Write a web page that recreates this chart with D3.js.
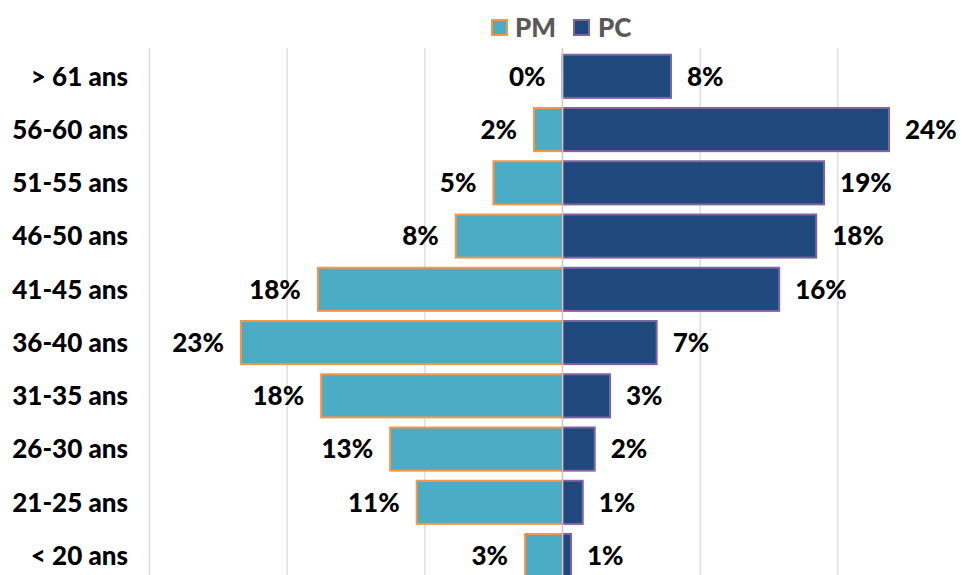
<!DOCTYPE html>
<html>
<head>
<meta charset="utf-8">
<script src="https://cdn.jsdelivr.net/npm/d3@7"></script>
<style>
  html, body { margin: 0; padding: 0; background: #fff; }
  svg { display: block; }
  text { font-family: Lato, "Open Sans", sans-serif; font-weight: 900; }
</style>
</head>
<body>
<div id="chart"></div>
<script>
// ---- data ----
const categories = ["> 61 ans", "56-60 ans", "51-55 ans", "46-50 ans", "41-45 ans",
                    "36-40 ans", "31-35 ans", "26-30 ans", "21-25 ans", "< 20 ans"];
const pmValues = [0, 2.07, 5.02, 7.75, 17.77, 23.36, 17.53, 12.52, 10.59, 2.72];
const pcValues = [7.88, 23.72, 19.0, 18.43, 15.74, 6.84, 3.45, 2.34, 1.47, 0.62];
const seriesNames = ["PM", "PC"];
const gridTicks = [-30, -20, -10, 0, 10, 20, 30];

// ---- layout ----
const W = 964, H = 575;
const FS = 26;
const svg = d3.select("#chart").append("svg").attr("width", W).attr("height", H);

const x = d3.scaleLinear().domain([-30, 30]).range([149.5, 975.5]);
const y = d3.scaleBand().domain(categories).range([49.7, 582.2]).paddingInner(0.19).paddingOuter(0.095);

const colors = {
  PM: { fill: "#4bacc6", stroke: "#f79646" },
  PC: { fill: "#1f497d", stroke: "#8064a2" }
};

// gridlines
svg.append("g").selectAll("line").data(gridTicks.filter(t => t !== 0)).join("line")
  .attr("x1", d => x(d)).attr("x2", d => x(d))
  .attr("y1", 48).attr("y2", H)
  .attr("stroke", "#d9d9d9").attr("stroke-width", 1.3);

// PM bars (left)
svg.append("g").selectAll("rect").data(categories).join("rect")
  .attr("x", (d, i) => x(-pmValues[i]))
  .attr("y", d => y(d))
  .attr("width", (d, i) => x(0) - x(-pmValues[i]))
  .attr("height", y.bandwidth())
  .attr("fill", colors.PM.fill)
  .attr("stroke", colors.PM.stroke).attr("stroke-width", 2);

// PC bars (right)
svg.append("g").selectAll("rect").data(categories).join("rect")
  .attr("x", x(0))
  .attr("y", d => y(d))
  .attr("width", (d, i) => x(pcValues[i]) - x(0))
  .attr("height", y.bandwidth())
  .attr("fill", colors.PC.fill)
  .attr("stroke", colors.PC.stroke).attr("stroke-width", 2);

// center axis line
svg.append("line")
  .attr("x1", x(0)).attr("x2", x(0)).attr("y1", 48).attr("y2", H)
  .attr("stroke", "#c8c8c8").attr("stroke-width", 1.5);

// value labels
const fmt = v => Math.round(v) + "%";
svg.append("g").selectAll("text").data(categories).join("text")
  .attr("x", (d, i) => x(-pmValues[i]) - 17)
  .attr("y", d => y(d) + y.bandwidth() / 2)
  .attr("dy", "0.36em")
  .attr("text-anchor", "end")
  .attr("font-size", FS)
  .attr("fill", "#000")
  .text((d, i) => fmt(pmValues[i]));

svg.append("g").selectAll("text").data(categories).join("text")
  .attr("x", (d, i) => x(pcValues[i]) + 16)
  .attr("y", d => y(d) + y.bandwidth() / 2)
  .attr("dy", "0.36em")
  .attr("text-anchor", "start")
  .attr("font-size", FS)
  .attr("fill", "#000")
  .text((d, i) => fmt(pcValues[i]));

// category axis
const yAxis = svg.append("g")
  .attr("transform", "translate(128,0)")
  .call(d3.axisLeft(y).tickSize(0).tickPadding(0));
yAxis.select(".domain").remove();
yAxis.selectAll("text")
  .attr("font-size", FS)
  .attr("font-family", "Lato, 'Open Sans', sans-serif")
  .attr("font-weight", 900)
  .attr("dy", "0.36em")
  .attr("fill", "#000");

// legend
const legendPos = [{ sx: 492, tx: 515 }, { sx: 574, tx: 598 }];
const lg = svg.append("g");
seriesNames.forEach((s, i) => {
  lg.append("rect")
    .attr("x", legendPos[i].sx).attr("y", 20).attr("width", 15).attr("height", 15)
    .attr("fill", colors[s].fill).attr("stroke", colors[s].stroke).attr("stroke-width", 2);
  lg.append("text")
    .attr("x", legendPos[i].tx).attr("y", 28).attr("dy", "0.36em")
    .attr("font-size", FS).attr("fill", "#595959")
    .text(s);
});
</script>
</body>
</html>
